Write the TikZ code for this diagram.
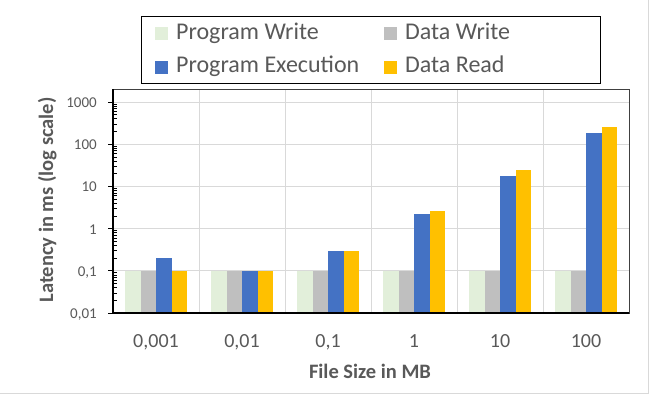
\documentclass[tikz,border=0pt]{standalone}
\usepackage{fontspec}
\setmainfont{Carlito}
\definecolor{pw}{HTML}{E2EFDA}
\definecolor{dw}{HTML}{BFBFBF}
\definecolor{pe}{HTML}{4472C4}
\definecolor{dr}{HTML}{FFC000}
\definecolor{txt}{HTML}{595959}
\definecolor{grid}{HTML}{D9D9D9}
\definecolor{frame}{HTML}{404040}
\begin{document}
\begin{tikzpicture}[x=1pt,y=-1pt,
  gridline/.style={grid,line width=1pt},
  ticklab/.style={text=txt,inner sep=0pt,font=\fontsize{15}{15}\selectfont},
  catlab/.style={text=txt,inner sep=0pt,font=\fontsize{20}{20}\selectfont},
  axtitle/.style={text=txt,inner sep=0pt,font=\bfseries\fontsize{20.5}{20.5}\selectfont},
  legtext/.style={text=txt,inner sep=0pt,anchor=base west,font=\fontsize{24}{24}\selectfont},
  legkey/.style={minimum size=13pt,inner sep=0pt,anchor=north west,draw=none}]
\useasboundingbox (0,0) rectangle (649,394);
\fill[white] (0,0) rectangle (649,394);
\draw[grid,line width=1pt] (0,393.5) -- (648.5,393.5) -- (648.5,0);
% horizontal gridlines
\foreach \y in {102,144.2,186.4,228.6,270.8}
  \draw[gridline] (113,\y) -- (629,\y);
% vertical gridlines
\foreach \x in {199,285,371,457,543}
  \draw[gridline] (\x,89) -- (\x,313);
% bars: blue top, yellow top
\foreach \b/\yl [count=\i from 0] in {258/270.8,270.8/270.8,251/251,214/211,176/170,133/127}{
  \pgfmathsetmacro{\L}{113+86*\i+12}
  \fill[pw] (\L,270.8) rectangle ++(15.5,42.2);
  \fill[dw] (\L+15.5,270.8) rectangle (\L+31,313);
  \fill[pe] (\L+31,\b) rectangle (\L+46.5,313);
  \fill[dr] (\L+46.5,\yl) rectangle (\L+62,313);
}
% plot frame
\draw[frame,line width=1pt] (113,89) rectangle (629,313);
\draw[black,line width=1.5pt] (113,89) -- (113,313.5);
\draw[black,line width=1.2pt] (112,313) -- (629,313);
% major ticks
\foreach \y in {102,144.2,186.4,228.6,270.8,313}
  \draw[black,line width=1pt] (108,\y) -- (113,\y);
% minor ticks
\foreach \d in {0,...,4}
  \foreach \m in {0.301,0.477,0.602,0.699,0.778,0.845,0.903,0.954}
    \draw[black,line width=0.6pt] (113,{313-42.2*(\d+\m)}) -- (117,{313-42.2*(\d+\m)});
% y tick labels
\foreach \y/\t [count=\k] in {102/1000,144.2/100,186.4/10,228.6/1,270.8/{0,1},313/{0,01}}
  \node[ticklab,anchor=base east] (yl\k) at (97,\y+5.5) {\t};
% x tick labels
\foreach \t [count=\k from 0] in {{0,001},{0,01},{0,1},1,10,100}
  \node[catlab,anchor=base] (xl\k) at (156+86*\k,347) {\t};
% axis titles
\node[axtitle,anchor=base] (xt) at (370,378.5) {File Size in MB};
\node[axtitle,anchor=base,rotate=90] (yt) at (53,200) {Latency in ms (log scale)};
% legend
\draw[black,line width=1pt] (141,16) rectangle (600,83);
\node[legkey,fill=pw] (k1) at (155,27) {};
\node[legtext] (t1) at (176,39.3) {Program Write};
\node[legkey,fill=dw] (k2) at (384,27) {};
\node[legtext] (t2) at (405,39.3) {Data Write};
\node[legkey,fill=pe] (k3) at (155,60.5) {};
\node[legtext] (t3) at (176,72.7) {Program Execution};
\node[legkey,fill=dr] (k4) at (384,60.5) {};
\node[legtext] (t4) at (405,72.7) {Data Read};
\end{tikzpicture}
\end{document}
